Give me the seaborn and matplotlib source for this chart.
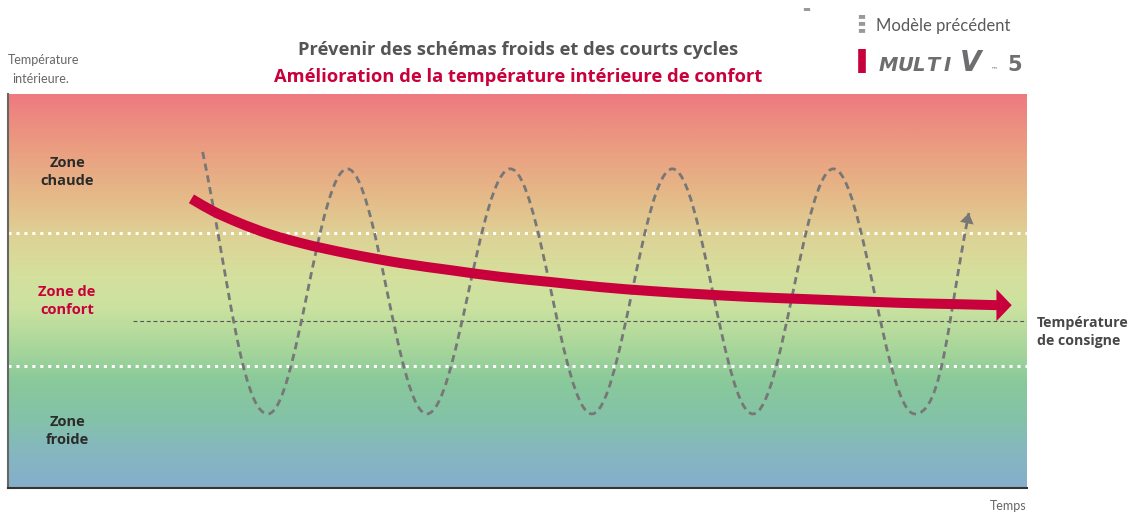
import numpy as np
import pandas as pd
import matplotlib
matplotlib.use("Agg")
import matplotlib.pyplot as plt
import seaborn as sns
from matplotlib.path import Path
from matplotlib.patches import PathPatch
from matplotlib.colors import LinearSegmentedColormap
from matplotlib.lines import Line2D

# ---------------------------------------------------------------- data
# Axis scales: time 0..100, indoor temperature 0..100 (arbitrary units)
red_time = [18.0, 20.1, 22.5, 25.7, 28.7, 33.6, 38.5, 43.4, 48.3, 53.2,
            58.1, 63.0, 67.9, 72.8, 77.7, 82.6, 87.5, 92.4, 97.1]
red_temp = [73.4, 70.3, 67.5, 64.4, 62.2, 59.4, 57.1, 55.3, 53.6, 52.3,
            51.0, 50.0, 49.2, 48.5, 48.0, 47.5, 47.0, 46.7, 46.4]
red_tip_time = 98.5

# turning points of the previous model's oscillation (start, min/max..., end)
wave_time = [19.1, 25.5, 33.3, 41.1, 49.3, 57.3, 65.2, 73.1, 81.0, 89.0, 94.3]
wave_temp = [85.3, 18.8, 81.0, 18.8, 81.0, 18.8, 81.0, 18.8, 81.0, 18.8, 69.8]

comfort_low = 31.0
comfort_high = 64.7
setpoint = 42.4
setpoint_start = 12.3

zone_labels = ["Zone\nchaude", "Zone de\nconfort", "Zone\nfroide"]
zone_label_temp = [80.2, 47.4, 14.5]

# ---------------------------------------------------------------- style
sns.set_theme(style="white")
plt.rcParams["font.family"] = ["Lato", "DejaVu Sans"]
HEAD_FONT = ["Open Sans", "DejaVu Sans"]

RED = "#C8003C"
GREY_TXT = "#555555"
DARK_TXT = "#2B2B2B"

W, H = 1130, 513
fig = plt.figure(figsize=(W / 100, H / 100), dpi=100)
ax = fig.add_axes([8 / W, 25 / H, 1019 / W, 394 / H])

# background gradient (cold blue at bottom -> hot red at top)
grad_stops = [
    (0.00, "#86AECC"), (0.10, "#85B8BE"), (0.17, "#84C2A9"),
    (0.27, "#89C99A"), (0.36, "#AAD79B"), (0.46, "#CCE2A0"),
    (0.54, "#D5E09D"), (0.64, "#DED296"), (0.74, "#E5BA88"),
    (0.87, "#EB9C80"), (1.00, "#EE7A80"),
]
cmap = LinearSegmentedColormap.from_list("zones", grad_stops)
ax.imshow(np.linspace(0, 1, 256).reshape(-1, 1), extent=[0, 100, 0, 100],
          origin="lower", aspect="auto", cmap=cmap, zorder=0)

# comfort zone limits (white dotted)
for lvl in (comfort_low, comfort_high):
    ax.axhline(lvl, color="white", lw=2.2, linestyle=(0, (1.0, 1.6)), zorder=1)

# set-point line
df_set = pd.DataFrame({"time": [setpoint_start, 100], "temp": [setpoint, setpoint]})
sns.lineplot(data=df_set, x="time", y="temp", color="#555555", lw=0.8,
             linestyle=(0, (3.5, 2.5)), ax=ax, zorder=1)


def smooth_path(xs, ys):
    """Smooth curve y(x) through the points (cubic Hermite as Bezier segments)."""
    x = np.asarray(xs, float)
    y = np.asarray(ys, float)
    m = np.gradient(y, x)
    verts = [(x[0], y[0])]
    codes = [Path.MOVETO]
    for i in range(len(x) - 1):
        h = (x[i + 1] - x[i]) / 3
        verts += [(x[i] + h, y[i] + m[i] * h),
                  (x[i + 1] - h, y[i + 1] - m[i + 1] * h),
                  (x[i + 1], y[i + 1])]
        codes += [Path.CURVE4] * 3
    return Path(verts, codes)


# previous model: oscillating dashed curve built from the turning points
k = 1 - 2 / np.pi
verts = [(wave_time[0], wave_temp[0])]
codes = [Path.MOVETO]
n = len(wave_time)
for i in range(1, n):
    t0, y0 = wave_time[i - 1], wave_temp[i - 1]
    t1, y1 = wave_time[i], wave_temp[i]
    dt = t1 - t0
    if i == 1:
        c1 = (t0 + 0.38 * dt, y0 + 0.45 * (y1 - y0))
        c2 = (t1 - 0.40 * dt, y1)
    elif i == n - 1:
        c1 = (t0 + 0.52 * dt, y0)
        c2 = (t1 - 0.38 * dt, y1 - 0.5 * (y1 - y0))
    else:
        c1 = (t0 + k * dt, y0)
        c2 = (t1 - k * dt, y1)
    verts += [c1, c2, (t1, y1)]
    codes += [Path.CURVE4] * 3
ax.add_patch(PathPatch(Path(verts, codes), fill=False, edgecolor="#777777",
                       lw=2.0, linestyle=(0, (2.6, 1.7)), capstyle="butt",
                       zorder=2))
# arrow head at end of the wave
end_dir = np.array(verts[-1]) - np.array(verts[-2])
end_dir = end_dir / np.hypot(end_dir[0] * 10.19, end_dir[1] * 3.94) * 10
ax.annotate("", xy=(wave_time[-1], wave_temp[-1]),
            xytext=(wave_time[-1] - end_dir[0], wave_temp[-1] - end_dir[1]),
            arrowprops=dict(arrowstyle="-|>,head_length=0.75,head_width=0.5",
                            mutation_scale=10, color="#777777", lw=0,
                            shrinkA=0, shrinkB=0), zorder=3)

# MULTI V 5: smooth convergence toward set point
ax.add_patch(PathPatch(smooth_path(red_time, red_temp), fill=False,
                       edgecolor=RED, lw=7.2, capstyle="butt", zorder=4))
ax.annotate("", xy=(red_tip_time, red_temp[-1]),
            xytext=(red_time[-1], red_temp[-1]),
            arrowprops=dict(arrowstyle="-|>,head_length=1.1,head_width=1.15",
                            mutation_scale=10, color=RED, lw=0,
                            shrinkA=0, shrinkB=0), zorder=5)

ax.set_xlim(0, 100)
ax.set_ylim(0, 100)
ax.set_xticks([])
ax.set_yticks([])
ax.set_xlabel("")
ax.set_ylabel("")
leg = ax.get_legend()
if leg is not None:
    leg.remove()
for side in ("top", "right"):
    ax.spines[side].set_visible(False)
ax.spines["left"].set_color("#666666")
ax.spines["left"].set_linewidth(1.5)
ax.spines["bottom"].set_color("#333333")
ax.spines["bottom"].set_linewidth(1.5)

# zone labels
for lab, yv in zip(zone_labels, zone_label_temp):
    col = RED if "confort" in lab else DARK_TXT
    ax.text(5.8, yv, lab, ha="center", va="center", fontsize=10.5,
            fontweight="bold", color=col, linespacing=1.4, zorder=6,
            family=HEAD_FONT)

ax.text(1.01, (setpoint - 2.8) / 100, "Température\nde consigne",
        transform=ax.transAxes, ha="left", va="center", fontsize=10.2,
        fontweight="bold", color="#474747", linespacing=1.4, clip_on=False,
        family=HEAD_FONT)


def fy(py):
    return 1 - py / H


fig.text(8 / W, fy(60), "Température", fontsize=9, color="#666666",
         ha="left", va="center")
fig.text(12 / W, fy(79), "intérieure.", fontsize=9, color="#666666",
         ha="left", va="center")
fig.text(1026 / W, fy(506), "Temps", fontsize=9, color="#666666",
         ha="right", va="center")

fig.text(518 / W, fy(50), "Prévenir des schémas froids et des courts cycles",
         fontsize=13.2, fontweight="bold", color=GREY_TXT, ha="center",
         va="center", family=HEAD_FONT)
fig.text(518 / W, fy(77), "Amélioration de la température intérieure de confort",
         fontsize=13.2, fontweight="bold", color=RED, ha="center", va="center",
         family=HEAD_FONT)

# legend
fig.add_artist(Line2D([807 / W, 807 / W], [fy(8), fy(11)], color="#999999",
                      lw=4.5, solid_capstyle="butt"))
fig.add_artist(Line2D([862 / W, 862 / W], [fy(15), fy(33)], color="#999999",
                      lw=4.5, linestyle=(0, (0.62, 0.5)), dash_capstyle="butt"))
fig.text(876 / W, fy(26), "Modèle précédent", fontsize=12, color="#5A5A5A",
         ha="left", va="center")
fig.add_artist(Line2D([862 / W, 862 / W], [fy(49), fy(73)], color=RED,
                      lw=5.5, solid_capstyle="butt"))
logo_kw = dict(color="#6D6E70", va="baseline", ha="left",
               family=["DejaVu Sans"])
for letter, px in zip("MULTI", [879, 898, 913, 926, 944]):
    fig.text(px / W, fy(71), letter, fontsize=14, fontweight="heavy",
             style="italic", **logo_kw)
fig.text(960 / W, fy(71), "V", fontsize=20, fontweight="heavy",
         style="italic", **logo_kw)
fig.text(991 / W, fy(71), "™", fontsize=5, **logo_kw)
fig.text(1007 / W, fy(71), "5", fontsize=15, fontweight="bold", **logo_kw)

fig.savefig("out.png", dpi=100)
